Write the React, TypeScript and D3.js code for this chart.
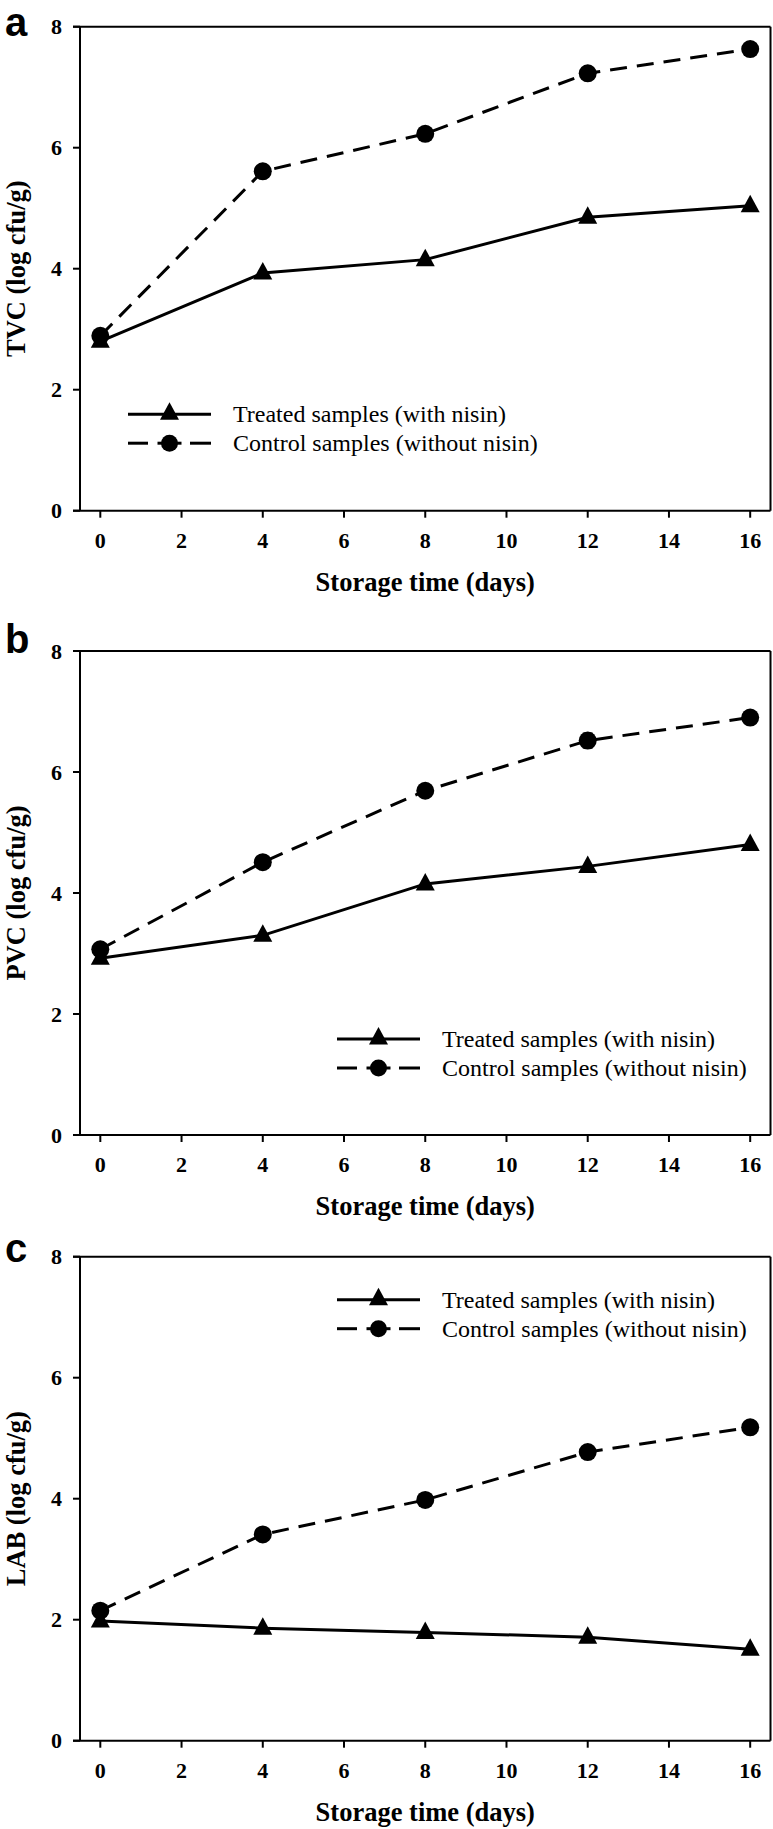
import React from "react";
import * as d3 from "d3";

const days = [0, 4, 8, 12, 16];
const xTicks = [0, 2, 4, 6, 8, 10, 12, 14, 16];
const yTicks = [0, 2, 4, 6, 8];

const tvcTreated = [2.8, 3.93, 4.15, 4.85, 5.04];
const tvcControl = [2.89, 5.61, 6.23, 7.23, 7.63];
const pvcTreated = [2.92, 3.3, 4.15, 4.44, 4.8];
const pvcControl = [3.07, 4.51, 5.69, 6.52, 6.9];
const labTreated = [1.98, 1.86, 1.79, 1.71, 1.51];
const labControl = [2.15, 3.41, 3.98, 4.77, 5.18];

const tvcControlErr = [0.05, 0.06, 0.05, 0.06, 0.08];
const pvcControlErr = [0.05, 0.05, 0.06, 0.12, 0.08];
const labControlErr = [0.05, 0.05, 0.05, 0.06, 0.1];

const treatedLabel = "Treated samples (with nisin)";
const controlLabel = "Control samples (without nisin)";
const xTitle = "Storage time (days)";

const W = 773;
const H = 1829;
const LEFT = 80;
const RIGHT = 770.5;
const PH = 484;
const SERIF = "'Liberation Serif', 'Times New Roman', serif";
const SANS = "'Liberation Sans', Arial, sans-serif";

const panels = [
  { letter: "a", letterY: 36, top: 26.7, yTitle: "TVC (log cfu/g)", treated: tvcTreated, control: tvcControl, err: tvcControlErr, legX: 128, legY: 387.5 },
  { letter: "b", letterY: 653, top: 651, yTitle: "PVC (log cfu/g)", treated: pvcTreated, control: pvcControl, err: pvcControlErr, legX: 337, legY: 388 },
  { letter: "c", letterY: 1262, top: 1256.7, yTitle: "LAB (log cfu/g)", treated: labTreated, control: labControl, err: labControlErr, legX: 337, legY: 43 },
];

const x = d3.scaleLinear().domain([-0.5, 16.5]).range([LEFT, RIGHT]);

function tri(cx: number, cy: number) {
  return `M${cx},${cy - 11} L${cx + 9.5},${cy + 6.5} L${cx - 9.5},${cy + 6.5} Z`;
}

function Panel({ p }: { p: (typeof panels)[number] }) {
  const y = d3.scaleLinear().domain([0, 8]).range([p.top + PH, p.top]);
  const line = d3
    .line<number>()
    .x((_, i) => x(days[i]))
    .y((v) => y(v));
  const bottom = y(0);
  const legLen = 83;
  const row2 = p.top + p.legY + 29;
  const row1 = p.top + p.legY;
  const mid = p.legX + legLen / 2;
  return (
    <g>
      <text x={5} y={p.letterY} fontFamily={SANS} fontWeight="bold" fontSize={40}>
        {p.letter}
      </text>
      {/* frame */}
      <line x1={LEFT - 7} x2={RIGHT} y1={bottom} y2={bottom} stroke="#000" strokeWidth={2} />
      <line x1={LEFT} x2={LEFT} y1={p.top} y2={bottom} stroke="#000" strokeWidth={2} />
      <line x1={LEFT - 7} x2={RIGHT} y1={p.top} y2={p.top} stroke="#000" strokeWidth={2} />
      <line x1={RIGHT} x2={RIGHT} y1={p.top} y2={bottom} stroke="#000" strokeWidth={2} />
      {yTicks.map((t) => (
        <g key={"y" + t}>
          <line x1={LEFT - 7} x2={LEFT} y1={y(t)} y2={y(t)} stroke="#000" strokeWidth={2} />
          <text x={62} y={y(t)} dy="0.35em" textAnchor="end" fontFamily={SERIF} fontWeight="bold" fontSize={22}>
            {t}
          </text>
        </g>
      ))}
      {xTicks.map((t) => (
        <g key={"x" + t}>
          <line x1={x(t)} x2={x(t)} y1={bottom} y2={bottom + 7} stroke="#000" strokeWidth={2} />
          <text x={x(t)} y={bottom + 37} textAnchor="middle" fontFamily={SERIF} fontWeight="bold" fontSize={22}>
            {t}
          </text>
        </g>
      ))}
      <text x={(LEFT + RIGHT) / 2} y={bottom + 80} textAnchor="middle" fontFamily={SERIF} fontWeight="bold" fontSize={26.5}>
        {xTitle}
      </text>
      <text
        transform={`translate(25,${(p.top + bottom) / 2}) rotate(-90)`}
        textAnchor="middle"
        fontFamily={SERIF}
        fontWeight="bold"
        fontSize={26.5}
      >
        {p.yTitle}
      </text>
      {/* error bars */}
      {p.control.map((v, i) => (
        <g key={"e" + i}>
          <line x1={x(days[i])} x2={x(days[i])} y1={y(v - p.err[i])} y2={y(v + p.err[i])} stroke="#000" strokeWidth={1.5} />
          <line x1={x(days[i]) - 5} x2={x(days[i]) + 5} y1={y(v - p.err[i])} y2={y(v - p.err[i])} stroke="#000" strokeWidth={1.5} />
          <line x1={x(days[i]) - 5} x2={x(days[i]) + 5} y1={y(v + p.err[i])} y2={y(v + p.err[i])} stroke="#000" strokeWidth={1.5} />
        </g>
      ))}
      <path d={line(p.control) || ""} fill="none" stroke="#000" strokeWidth={3} strokeDasharray="17 10" />
      <path d={line(p.treated) || ""} fill="none" stroke="#000" strokeWidth={3} />
      {p.control.map((v, i) => (
        <circle key={"c" + i} cx={x(days[i])} cy={y(v)} r={9} fill="#000" />
      ))}
      {p.treated.map((v, i) => (
        <path key={"t" + i} d={tri(x(days[i]), y(v))} fill="#000" />
      ))}
      {/* legend */}
      <line x1={p.legX} x2={p.legX + legLen} y1={row1} y2={row1} stroke="#000" strokeWidth={3} />
      <path d={tri(mid, row1 - 1)} fill="#000" />
      <text x={p.legX + 105} y={row1} dy="0.33em" fontFamily={SERIF} fontSize={24}>
        {treatedLabel}
      </text>
      <line x1={p.legX} x2={p.legX + 20} y1={row2} y2={row2} stroke="#000" strokeWidth={3} />
      <line x1={mid - 12} x2={mid + 12} y1={row2} y2={row2} stroke="#000" strokeWidth={3} />
      <line x1={p.legX + legLen - 21} x2={p.legX + legLen} y1={row2} y2={row2} stroke="#000" strokeWidth={3} />
      <circle cx={mid} cy={row2} r={8.5} fill="#000" />
      <text x={p.legX + 105} y={row2} dy="0.33em" fontFamily={SERIF} fontSize={24}>
        {controlLabel}
      </text>
    </g>
  );
}

export default function App() {
  return (
    <svg
      width={W}
      height={H}
      viewBox={`0 0 ${W} ${H}`}
      style={{ position: "absolute", left: 0, top: 0, background: "#fff" }}
    >
      <rect x={0} y={0} width={W} height={H} fill="#fff" />
      {panels.map((p) => (
        <Panel key={p.letter} p={p} />
      ))}
    </svg>
  );
}
